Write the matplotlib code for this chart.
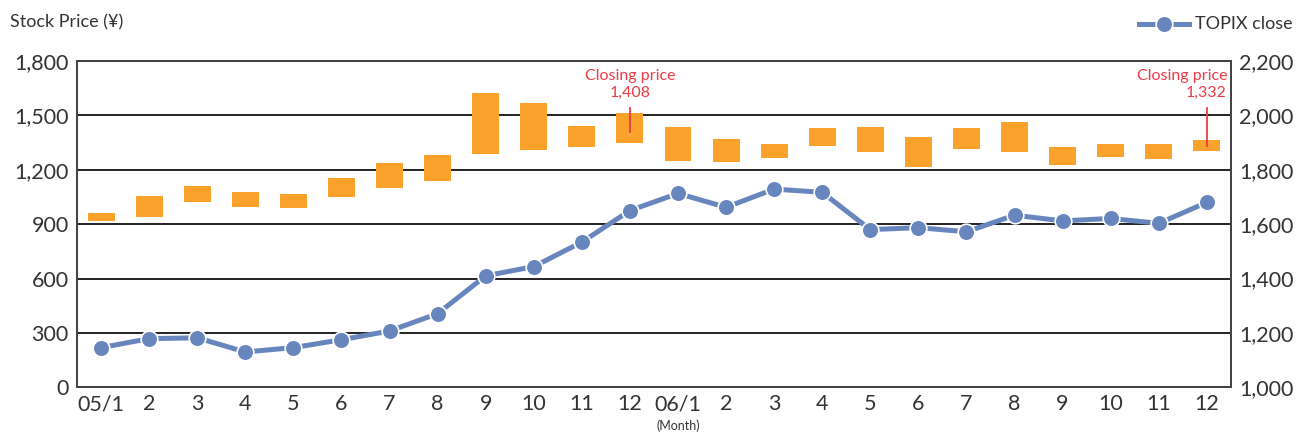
import matplotlib.pyplot as plt
import numpy as np

plt.rcParams['font.family'] = ['Lato', 'DejaVu Sans']

months = ["05/1", "2", "3", "4", "5", "6", "7", "8", "9", "10", "11", "12",
          "06/1", "2", "3", "4", "5", "6", "7", "8", "9", "10", "11", "12"]
# monthly price range (yen), bar top and bottom
bar_top = [961, 1058, 1108, 1080, 1064, 1157, 1240, 1284, 1625, 1570, 1444, 1515,
           1438, 1372, 1344, 1432, 1438, 1383, 1432, 1466, 1328, 1344, 1344, 1367]
bar_bottom = [917, 939, 1021, 994, 988, 1049, 1099, 1137, 1286, 1308, 1324, 1346,
              1247, 1245, 1264, 1330, 1297, 1214, 1313, 1297, 1225, 1269, 1258, 1302]
# TOPIX close (right axis)
topix = [1146, 1179, 1182, 1130, 1146, 1175, 1207, 1271, 1410, 1444, 1534, 1650,
         1713, 1662, 1729, 1717, 1580, 1587, 1572, 1633, 1612, 1621, 1603, 1680]
close_notes = [(11, 1408), (23, 1332)]

orange = '#FAA22B'
blue = '#6886BE'
red = '#EE3B45'

x = np.arange(len(months))
fig = plt.figure(figsize=(12.97, 4.37), dpi=100)
ax_l, ax_w = 0.0594, 0.8896
ax = fig.add_axes([ax_l, 0.1137, ax_w, 0.7467])

heights = np.array(bar_top) - np.array(bar_bottom)
ax.bar(x, heights, bottom=bar_bottom, width=0.56, color=orange, zorder=2)
ax.set_xlim(-0.5, 23.5)
ax.set_ylim(0, 1800)
ax.set_yticks(range(0, 1801, 300))
ax.set_yticklabels([f"{v:,}" for v in range(0, 1801, 300)])
ax.set_xticks(x)
ax.set_xticklabels(months)
ax.yaxis.grid(True, color='#222222', lw=1.4)
ax.set_axisbelow(True)
ax.tick_params(length=0, labelsize=15.5, colors='#333333', pad=6)
ax.tick_params(axis='x', pad=5)

for i, v in close_notes:
    ax.plot([i, i], [v, 1540], color=red, lw=1.3, zorder=3)

ax2 = ax.twinx()
ax2.plot(x, topix, color=blue, lw=3.6, marker='o', markersize=12,
         markeredgecolor='white', markeredgewidth=1.2, zorder=4)
ax2.set_ylim(1000, 2200)
ax2.set_yticks(range(1000, 2201, 200))
ax2.set_yticklabels([f"{v:,}" for v in range(1000, 2201, 200)])
ax2.tick_params(length=0, labelsize=15.5, colors='#333333', pad=6)

for a in (ax, ax2):
    for s in a.spines.values():
        s.set_color('#444444')
        s.set_linewidth(1.4)

ax.text(11, 1670, "Closing price\n1,408", color=red, fontsize=11.5,
        ha='center', va='center', linespacing=1.3)
ax.text(23.42, 1670, "Closing price\n1,332", color=red, fontsize=11.5,
        ha='right', va='center', linespacing=1.3, multialignment='right')

fig.text(0.008, 0.948, "Stock Price (¥)", fontsize=13, color='#333333', va='center')
fig.text(ax_l + ax_w * 12.5 / 24, 0.015, "(Month)", fontsize=9,
         color='#333333', ha='center')

# legend
fig.lines.append(plt.Line2D([0.878, 0.917], [0.945, 0.945], transform=fig.transFigure,
                            color=blue, lw=3.6))
fig.lines.append(plt.Line2D([0.8975], [0.945], transform=fig.transFigure,
                            color=blue, marker='o', markersize=12,
                            markeredgecolor='white', markeredgewidth=1.2))
fig.text(0.997, 0.945, "TOPIX close", fontsize=13, color='#333333',
         va='center', ha='right')

fig.savefig("out.png", dpi=100)
